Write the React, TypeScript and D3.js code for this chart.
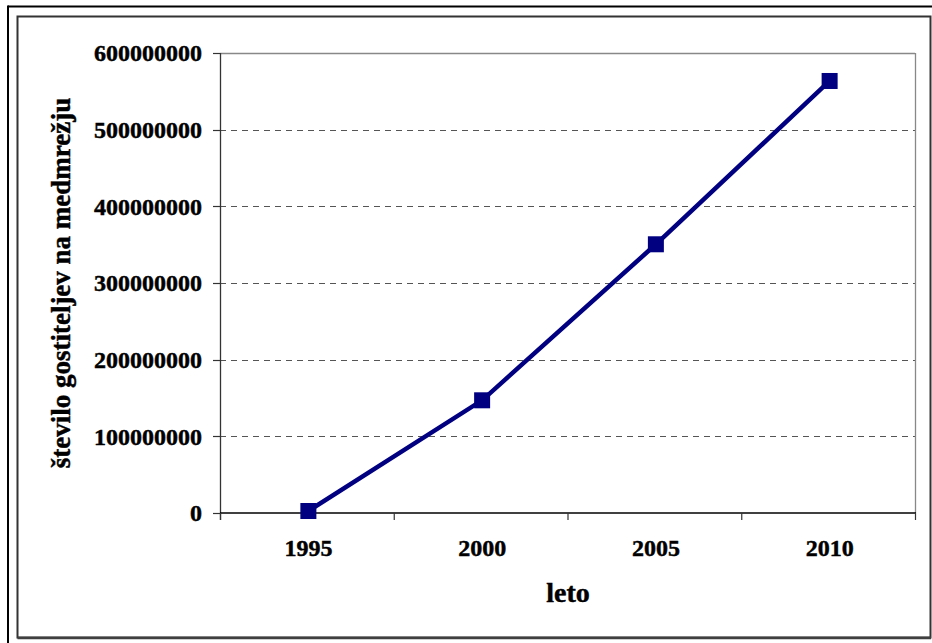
import React from "react";
import * as d3 from "d3";

const years = ["1995", "2000", "2005", "2010"];
const hosts = [2600000, 147000000, 350500000, 563500000];
const yTicks = [0, 100000000, 200000000, 300000000, 400000000, 500000000, 600000000];
const xTitle = "leto";
const yTitle = "število gostiteljev na medmrežju";

const W = 932;
const H = 643;
const plot = { left: 220, right: 915, top: 53, bottom: 513 };
const FONT = "'Liberation Serif', 'Times New Roman', serif";

export default function App() {
  const x = d3.scaleBand<string>().domain(years).range([plot.left, plot.right]).padding(0);
  const y = d3.scaleLinear().domain([0, 600000000]).range([plot.bottom, plot.top]);
  const cx = (d: string) => (x(d) as number) + x.bandwidth() / 2 + 1.5;
  const line = d3
    .line<number>()
    .x((_, i) => cx(years[i]))
    .y((v) => y(v));
  const boundaries = years.map((d) => x(d) as number).concat([plot.right]);
  const textStyle = { fontFamily: FONT, fontWeight: 700 as const, fill: "#000", stroke: "#000", strokeWidth: 0.45 };

  return (
    <div style={{ position: "absolute", left: 0, top: 0 }}>
      <svg width={W} height={H} style={{ display: "block", background: "#fff" }}>
        {/* outer page lines */}
        <line x1={8} y1={6.5} x2={932} y2={6.5} stroke="#000" strokeWidth={2} />
        <line x1={8} y1={5.5} x2={8} y2={643} stroke="#000" strokeWidth={2} />
        {/* chart area border */}
        <rect x={17.5} y={16.5} width={913} height={621} fill="#fff" stroke="#333" strokeWidth={2} />
        <line x1={17.5} y1={638} x2={931} y2={638} stroke="#404040" strokeWidth={2.5} />

        {/* gridlines */}
        {yTicks
          .filter((t) => t > 0 && t < 600000000)
          .map((t) => (
            <line
              key={"g" + t}
              x1={plot.left}
              x2={plot.right}
              y1={Math.round(y(t)) + 0.5}
              y2={Math.round(y(t)) + 0.5}
              stroke="#555"
              strokeWidth={1}
              strokeDasharray="6,5"
            />
          ))}
        {/* plot border top/right */}
        <line x1={plot.left} x2={plot.right} y1={plot.top + 0.5} y2={plot.top + 0.5} stroke="#888" strokeWidth={1.3} />
        <line x1={plot.right + 0.5} x2={plot.right + 0.5} y1={plot.top} y2={plot.bottom} stroke="#888" strokeWidth={1.3} />

        {/* y axis */}
        <line x1={plot.left + 0.5} x2={plot.left + 0.5} y1={plot.top} y2={plot.bottom + 7} stroke="#333" strokeWidth={1.3} />
        {yTicks.map((t) => (
          <g key={"y" + t}>
            <line
              x1={plot.left - 7}
              x2={plot.left}
              y1={Math.round(y(t)) + 0.5}
              y2={Math.round(y(t)) + 0.5}
              stroke="#333"
              strokeWidth={1.2}
            />
            <text x={202} y={y(t)} dy="0.35em" textAnchor="end" fontSize={24} style={textStyle}>
              {String(t)}
            </text>
          </g>
        ))}

        {/* x axis */}
        <line x1={plot.left} x2={plot.right + 1} y1={plot.bottom} y2={plot.bottom} stroke="#000" strokeWidth={1.5} />
        {boundaries.map((b, i) => (
          <line key={"xt" + i} x1={b + 0.5} x2={b + 0.5} y1={plot.bottom} y2={plot.bottom + 7} stroke="#333" strokeWidth={1.2} />
        ))}
        {years.map((d) => (
          <text key={"xl" + d} x={cx(d)} y={556} textAnchor="middle" fontSize={24} style={textStyle}>
            {d}
          </text>
        ))}

        {/* series */}
        <path d={line(hosts) || ""} fill="none" stroke="#000080" strokeWidth={4.5} />
        {hosts.map((v, i) => (
          <rect key={"m" + i} x={cx(years[i]) - 8} y={y(v) - 8} width={16} height={16} fill="#000080" />
        ))}

        {/* axis titles */}
        <text x={568} y={602} textAnchor="middle" fontSize={28} style={textStyle}>
          {xTitle}
        </text>
        <text
          transform={`translate(70, ${(plot.top + plot.bottom) / 2}) rotate(-90)`}
          textAnchor="middle"
          fontSize={27}
          style={textStyle}
        >
          {yTitle}
        </text>
      </svg>
    </div>
  );
}
